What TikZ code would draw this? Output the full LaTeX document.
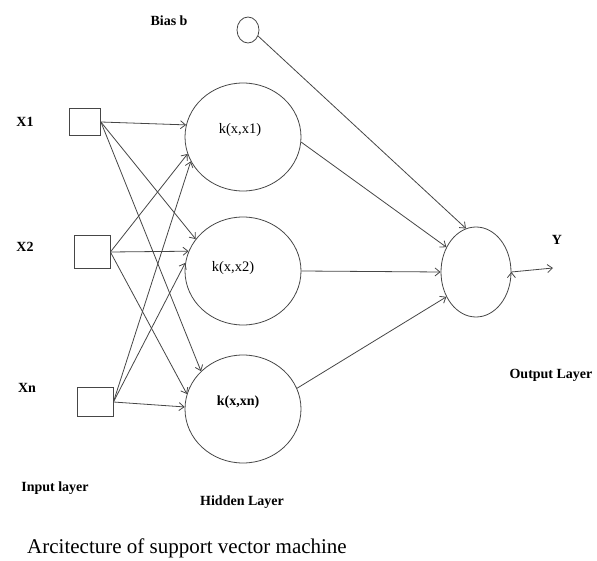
\documentclass[tikz,border=0pt]{standalone}
\usepackage{fontspec}
\setmainfont{Liberation Serif}
\definecolor{myline}{RGB}{70, 70, 70}
\usetikzlibrary{arrows.meta, positioning, shapes.geometric}

\begin{document}
\begin{tikzpicture}[x = 1pt, y = -1pt, >={Straight Barb[length = 5pt, width = 8pt]},
	inbox/.style = {rectangle, draw = myline, line width = 0.8pt, inner sep = 0pt},
	hidden/.style = {ellipse, draw = myline, line width = 0.8pt, inner sep = 0pt, minimum width = 116pt, minimum height = 108pt},
	lbl/.style = {font = \bfseries\fontsize{14}{16}\selectfont},
	klbl/.style = {font = \fontsize{14.5}{16}\selectfont}]
	\useasboundingbox (0, 0) rectangle (597, 561);

	\node[inbox, minimum width = 31pt, minimum height = 27pt] (x1) at (85, 122) {};
	\node[inbox, minimum width = 36pt, minimum height = 33pt] (x2) at (92, 252) {};
	\node[inbox, minimum width = 36pt, minimum height = 29pt] (xn) at (95, 402) {};
	\node[hidden] (h1) at (243, 137) {};
	\node[hidden] (h2) at (243, 271) {};
	\node[hidden] (h3) at (243, 409) {};
	\node[ellipse, draw = myline, line width = 0.8pt, minimum width = 70pt, minimum height = 90pt, inner sep = 0pt] (out) at (476, 272) {};
	\node[ellipse, draw = myline, line width = 0.8pt, minimum width = 22pt, minimum height = 26pt, inner sep = 0pt] (bias) at (248, 30) {};
	\coordinate (y) at (553, 268);

	\node[lbl] at (25, 122) {X1};
	\node[lbl] at (25, 247) {X2};
	\node[lbl] at (27, 388) {Xn};
	\node[lbl] at (169, 21) {Bias b};
	\node[lbl] at (557, 240) {Y};
	\node[klbl] at (240, 130) {k(x,x1)};
	\node[klbl] at (233, 268) {k(x,x2)};
	\node[klbl, font = \bfseries\fontsize{14}{16}\selectfont] at (238, 402) {k(x,xn)};
	\node[lbl] at (55, 488) {Input layer};
	\node[lbl] at (242, 502) {Hidden Layer};
	\node[lbl] at (551, 375) {Output Layer};
	\node[font = \fontsize{21}{24}\selectfont] at (187, 548) {Arcitecture of support vector machine};

	\draw[->, myline, line width = 0.8pt]
		(x1.east) edge (h1.168)
		(x1.east) edge (h2.146)
		(x1.east) edge (h3.138)
		(x2.east) edge (h1.197)
		(x2.east) edge (h2.160)
		(x2.east) edge (h3.165)
		(xn.east) edge (h1.205)
		(xn.east) edge (h2.172)
		(xn.east) edge (h3.178)
		(h1.-5) edge (out.140)
		(h2.east) edge (out.west)
		(h3.21) edge (out.220)
		(bias.-31) edge (out.103)
		(out.east) edge (y);
\end{tikzpicture}
\end{document}
